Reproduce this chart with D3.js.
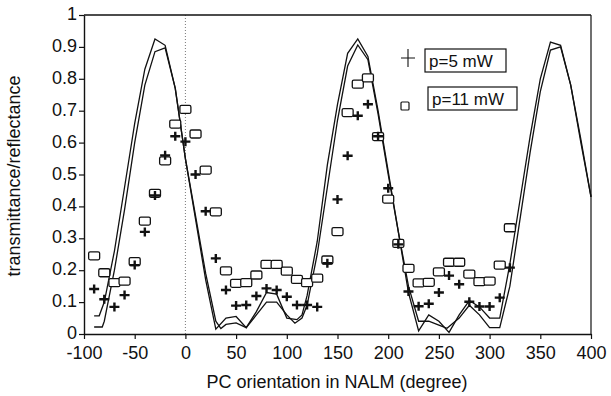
<!DOCTYPE html>
<html>
<head>
<meta charset="utf-8">
<script src="https://cdn.jsdelivr.net/npm/d3@7/dist/d3.min.js"></script>
<style>
  html, body { margin: 0; padding: 0; background: #fff; }
  svg { display: block; }
  text { font-family: Arial, "Liberation Sans", Helvetica, sans-serif; fill: #111; }
</style>
</head>
<body>
<svg id="chart" width="611" height="396"></svg>
<script>
// ---- data ----
const angles = [-90,-80,-70,-60,-50,-40,-30,-20,-10,0,10,20,30,40,50,60,70,80,90,100,110,120,130,140,150,160,170,180,190,200,210,220,230,240,250,260,270,280,290,300,310,320];
const p5mW  = [0.141,0.109,0.085,0.122,0.216,0.32,0.434,0.56,0.62,0.603,0.50,0.385,0.237,0.138,0.089,0.091,0.119,0.143,0.138,0.117,0.091,0.091,0.085,0.222,0.422,0.559,0.684,0.72,0.62,0.457,0.281,0.133,0.087,0.095,0.13,0.183,0.156,0.101,0.086,0.086,0.114,0.208];
const p11mW = [0.245,0.192,0.161,0.166,0.227,0.354,0.441,0.543,0.658,0.704,0.627,0.514,0.383,0.198,0.159,0.161,0.185,0.218,0.218,0.197,0.171,0.161,0.175,0.232,0.321,0.694,0.783,0.803,0.619,0.423,0.284,0.206,0.160,0.162,0.195,0.225,0.225,0.188,0.164,0.166,0.216,0.333];

const theoryAx = [-90,-85,-80,-70,-60,-50,-40,-30,-20,-10,0,10,20,30,40,50,60,70,80,90,100,110,115,120,130,140,150,160,170,180,190,200,210,220,230,240,250,260,270,280,290,300,310,320,330,340,350,360,370,380,390,400];
const theoryA  = [0.057,0.057,0.10,0.26,0.46,0.66,0.83,0.925,0.905,0.77,0.55,0.36,0.17,0.015,0.05,0.055,0.02,0.07,0.13,0.125,0.05,0.045,0.06,0.12,0.29,0.53,0.72,0.88,0.925,0.87,0.70,0.51,0.32,0.13,0.01,0.06,0.04,0.005,0.06,0.105,0.085,0.05,0.05,0.22,0.42,0.62,0.80,0.915,0.905,0.78,0.61,0.43];
const theoryBx = [-90,-82,-80,-70,-60,-50,-40,-30,-20,-10,0,10,20,30,35,40,50,60,70,80,90,100,108,115,120,130,140,150,160,170,180,190,200,210,220,230,240,250,258,270,280,290,300,310,320,330,340,350,360,370,380,390,400];
const theoryB  = [0.022,0.022,0.04,0.20,0.39,0.60,0.78,0.885,0.897,0.77,0.55,0.37,0.19,0.04,0.017,0.03,0.035,0.02,0.06,0.10,0.10,0.06,0.034,0.05,0.09,0.25,0.46,0.67,0.84,0.906,0.86,0.69,0.50,0.32,0.15,0.04,0.04,0.028,0.018,0.05,0.09,0.06,0.02,0.02,0.15,0.36,0.57,0.76,0.89,0.90,0.78,0.60,0.43];

const xTicks = [-100,-50,0,50,100,150,200,250,300,350,400];
const yTicks = [0,0.1,0.2,0.3,0.4,0.5,0.6,0.7,0.8,0.9,1];
const legendLabels = ["p=5 mW","p=11 mW"];
const xTitle = "PC orientation in NALM (degree)";
const yTitle = "transmittance/reflectance";

// ---- layout ----
const svg = d3.select("#chart");
const x = d3.scaleLinear().domain([-100,400]).range([84,591]);
const y = d3.scaleLinear().domain([0,1]).range([334,15]);
const ink = "#111";

// dotted zero line
svg.append("line")
  .attr("x1", x(0)).attr("x2", x(0)).attr("y1", y(1)).attr("y2", y(0))
  .attr("stroke", "#555").attr("stroke-width", 0.8).attr("stroke-dasharray", "1,2");

// frame (top + right)
svg.append("line").attr("x1", x(-100)).attr("x2", x(400)).attr("y1", y(1)).attr("y2", y(1))
  .attr("stroke", ink).attr("stroke-width", 1.4);
svg.append("line").attr("x1", x(400)).attr("x2", x(400)).attr("y1", y(1)).attr("y2", y(0))
  .attr("stroke", ink).attr("stroke-width", 1.2);

// axes
const xAxis = svg.append("g").attr("transform", `translate(0,${y(0)})`)
  .call(d3.axisBottom(x).tickValues(xTicks).tickSize(5).tickSizeOuter(0).tickPadding(7)
    .tickFormat(d => String(d)));
const yAxis = svg.append("g").attr("transform", `translate(${x(-100)},0)`)
  .call(d3.axisLeft(y).tickValues(yTicks).tickSize(5).tickSizeOuter(0).tickPadding(2)
    .tickFormat(d => (d === 0 ? "0" : d === 1 ? "1" : d3.format(".1f")(d))));
[xAxis, yAxis].forEach(g => {
  g.select(".domain").attr("stroke", ink).attr("stroke-width", 1.4);
  g.selectAll(".tick line").attr("stroke", ink).attr("stroke-width", 1.2);
  g.selectAll("text").attr("font-size", 18).attr("fill", ink)
    .attr("font-family", "Arial, 'Liberation Sans', sans-serif");
});
yAxis.selectAll("text").attr("dy", "0.25em");

// theory curves
const lineGen = d3.line().x(d => x(d[0])).y(d => y(d[1]));
svg.append("path").datum(theoryAx.map((v,i) => [v, theoryA[i]]))
  .attr("d", lineGen).attr("fill", "none").attr("stroke", ink).attr("stroke-width", 1.3);
svg.append("path").datum(theoryBx.map((v,i) => [v, theoryB[i]]))
  .attr("d", lineGen).attr("fill", "none").attr("stroke", ink).attr("stroke-width", 1.3);

// squares (p=11 mW)
svg.append("g").selectAll("rect").data(angles.map((a,i) => [a, p11mW[i]])).join("rect")
  .attr("x", d => x(d[0]) - 5.5).attr("y", d => y(d[1]) - 4).attr("width", 11).attr("height", 8)
  .attr("rx", 1.5).attr("fill", "#fff").attr("stroke", ink).attr("stroke-width", 1.3);

// plus markers (p=5 mW)
const plusPath = (cx, cy, w, h) => `M${cx - w/2},${cy}H${cx + w/2}M${cx},${cy - h/2}V${cy + h/2}`;
svg.append("g").selectAll("path").data(angles.map((a,i) => [a, p5mW[i]])).join("path")
  .attr("d", d => plusPath(x(d[0]), y(d[1]), 10, 9))
  .attr("stroke", ink).attr("stroke-width", 2.4).attr("fill", "none");

// legend
const lg = svg.append("g");
lg.append("path").attr("d", plusPath(408, 58, 14, 18)).attr("stroke", ink).attr("stroke-width", 1.1);
lg.append("rect").attr("x", 425).attr("y", 49).attr("width", 81).attr("height", 23)
  .attr("fill", "#fff").attr("stroke", ink).attr("stroke-width", 1.2);
lg.append("text").attr("x", 429).attr("y", 67).attr("font-size", 17).text(legendLabels[0]);
lg.append("rect").attr("x", 401).attr("y", 102).attr("width", 8).attr("height", 8).attr("rx", 1)
  .attr("fill", "#fff").attr("stroke", ink).attr("stroke-width", 1.2);
lg.append("rect").attr("x", 428).attr("y", 87).attr("width", 89).attr("height", 23)
  .attr("fill", "#fff").attr("stroke", ink).attr("stroke-width", 1.2);
lg.append("text").attr("x", 432).attr("y", 105).attr("font-size", 17).text(legendLabels[1]);

// titles
svg.append("text").attr("x", 337).attr("y", 388).attr("text-anchor", "middle")
  .attr("font-size", 18).text(xTitle);
svg.append("text").attr("transform", "translate(20,176) rotate(-90)").attr("text-anchor", "middle")
  .attr("font-size", 18).text(yTitle);
</script>
</body>
</html>
